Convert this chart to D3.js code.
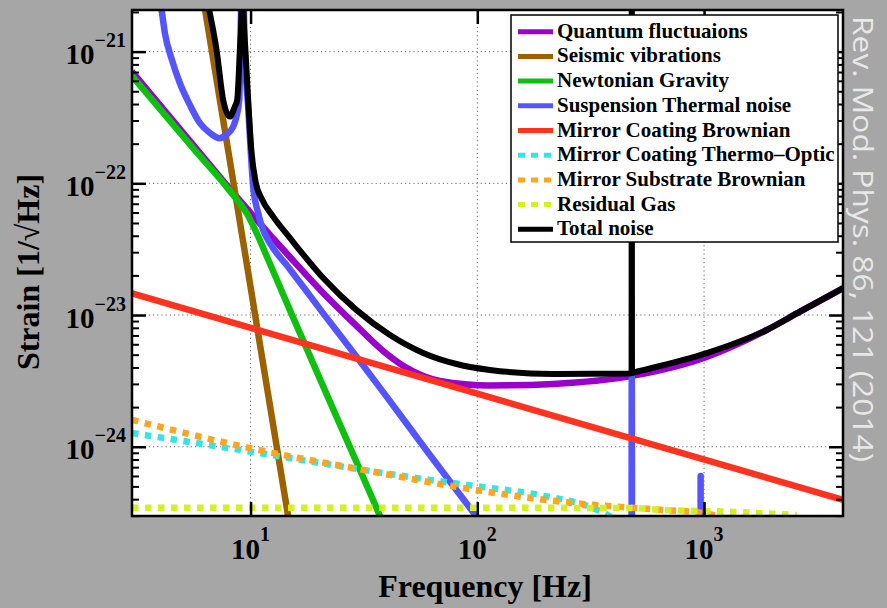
<!DOCTYPE html>
<html>
<head>
<meta charset="utf-8">
<script src="https://cdnjs.cloudflare.com/ajax/libs/d3/7.8.5/d3.min.js"></script>
<style>
body { margin: 0; background: #a6a6a6; }
svg { display: block; }
</style>
</head>
<body>
<svg width="887" height="608"></svg>
<script>
// values: frequency [Hz] and strain [1/sqrt(Hz)]
var quantumF = [3, 5.58, 8.1, 10.27, 14.91, 20.91, 29.35, 38.45, 48.76, 68.4, 113.6, 216, 479, 1027, 1889, 2649, 4100];
var quantumH = [7.05e-22, 1.96e-22, 9.07e-23, 5.66e-23, 2.76e-23, 1.47e-23, 8.27e-24, 5.34e-24, 3.97e-24, 3.16e-24, 2.92e-24, 3.0e-24, 3.45e-24, 4.81e-24, 7.7e-24, 1.06e-23, 1.6e-23];

var seismicF = [6.2, 8, 10, 12, 15];
var seismicH = [2.46e-21, 1.7e-22, 1.63e-23, 2.4e-24, 2.31e-25];

var newtonF = [3, 5.58, 8.1, 9.6, 10.63, 11.77, 14.91, 22.38, 37.2, 45];
var newtonH = [6.54e-22, 1.85e-22, 8.76e-23, 5.96e-23, 4.2e-23, 2.81e-23, 1.09e-23, 2.2e-24, 2.98e-25, 1.37e-25];

var suspF = [3.95, 4.05, 4.19, 4.5, 4.88, 5.4, 5.98, 6.62, 7.32, 7.78, 8.38, 8.7, 8.91, 9.2, 9.45, 9.76, 10.27, 10.77, 11.36, 12.16, 14.91, 20.91, 29.35, 39.8, 61.8, 99.3, 200, 478, 480, 482, 964, 966, 968, 4100];
var suspH = [2.6e-21, 2.07e-21, 1.38e-21, 8.65e-22, 5.75e-22, 3.94e-22, 2.86e-22, 2.41e-22, 2.2e-22, 2.33e-22, 2.69e-22, 3.31e-22, 4.3e-22, 5e-21, 9e-22, 3.8e-22, 9.44e-23, 6.06e-23, 4.43e-23, 3.53e-23, 2.23e-23, 1.03e-23, 4.83e-24, 2.4e-24, 8.66e-25, 2.94e-25, 6e-26, 8e-27, 3.45e-24, 8e-27, 3e-27, 6e-25, 3e-27, 2e-28];

var coatingF = [3, 100, 4100];
var coatingH = [1.46e-23, 2.53e-24, 3.95e-25];

var thermoF = [3, 10, 31.4, 61.8, 102.7, 209, 313.8, 384.6, 450];
var thermoH = [1.27e-24, 9.18e-25, 6.67e-25, 5.6e-25, 4.98e-25, 4.16e-25, 3.49e-25, 2.96e-25, 2.4e-25];

var substrateF = [3, 10, 31.4, 86.4, 238.5, 658.7, 989, 1175, 1500];
var substrateH = [1.6e-24, 9.74e-25, 6.67e-25, 4.87e-25, 3.81e-25, 3.31e-25, 3.14e-25, 2.94e-25, 2.5e-25];

var gasF = [3, 470, 658.7, 1301, 2560];
var gasH = [3.45e-25, 3.43e-25, 3.31e-25, 3.21e-25, 3.03e-25];

var totalF = [6.4, 6.57, 7.08, 7.57, 8.1, 8.52, 8.73, 8.97, 9.13, 9.2, 9.3, 9.5, 9.76, 10.08, 10.56, 11.21, 12.58, 14.91, 20.91, 29.35, 41.2, 57.7, 81, 113.6, 216, 470, 479, 480, 481, 500, 1027, 1889, 2649, 4100];
var totalH = [2.6e-21, 2.07e-21, 1.03e-21, 4.3e-22, 3.21e-22, 3.82e-22, 4.3e-22, 1.03e-21, 2.07e-21, 5e-21, 2.07e-21, 1.0e-21, 4.3e-22, 1.79e-22, 1.0e-22, 7.61e-23, 5.59e-23, 3.85e-23, 1.91e-23, 1.09e-23, 7.06e-24, 5.16e-24, 4.25e-24, 3.83e-24, 3.57e-24, 3.6e-24, 3.62e-24, 1e-20, 3.64e-24, 3.7e-24, 5.13e-24, 7.7e-24, 1.06e-23, 1.6e-23];

var legendLabels = ["Quantum fluctuaions", "Seismic vibrations", "Newtonian Gravity", "Suspension Thermal noise", "Mirror Coating Brownian", "Mirror Coating Thermo\u2013Optic", "Mirror Substrate Brownian", "Residual Gas", "Total noise"];

var xTicks = [10, 100, 1000];
var xTickExp = ["1", "2", "3"];
var yTicks = [1e-21, 1e-22, 1e-23, 1e-24];
var yTickExp = ["\u221221", "\u221222", "\u221223", "\u221224"];

// plot box (window.top is read-only, so no plain "top" here)
var boxL = 132, boxR = 843, boxT = 10, boxB = 516;

var svg = d3.select('svg');

var ScaleX = d3.scaleLog().domain([3, 4100]).range([boxL, boxR]);
var ScaleY = d3.scaleLog().domain([2.98e-25, 2.07e-21]).range([boxB, boxT]);

// series table (drawing order = legend order, total on top)
var series = [
    {f: quantumF, h: quantumH, color: '#9900cc', dash: null},
    {f: seismicF, h: seismicH, color: '#9c6200', dash: null},
    {f: newtonF, h: newtonH, color: '#10c010', dash: null},
    {f: suspF, h: suspH, color: '#5555ff', dash: null},
    {f: coatingF, h: coatingH, color: '#ff3320', dash: null},
    {f: thermoF, h: thermoH, color: '#33e6e6', dash: '6.5,6.5'},
    {f: substrateF, h: substrateH, color: '#ffa522', dash: '6.5,6.5'},
    {f: gasF, h: gasH, color: '#d4f01e', dash: '6.5,6.5'},
    {f: totalF, h: totalH, color: '#000000', dash: null}
];
series.forEach(function(s, i){ s.label = legendLabels[i]; });

svg.append('rect')
    .attr('width', 887).attr('height', 608)
    .attr('fill', '#a6a6a6');

svg.append('rect')
    .attr('x', boxL).attr('y', boxT)
    .attr('width', boxR - boxL).attr('height', boxB - boxT)
    .attr('fill', 'white');

svg.append('clipPath').attr('id', 'plotclip')
    .append('rect')
    .attr('x', boxL).attr('y', boxT)
    .attr('width', boxR - boxL).attr('height', boxB - boxT);

// dotted grid at the decades
svg.selectAll('.gridx')
    .data(xTicks)
    .enter()
    .append('line')
    .attr('class', 'gridx')
    .attr('x1', function(d){ return ScaleX(d); })
    .attr('x2', function(d){ return ScaleX(d); })
    .attr('y1', boxT).attr('y2', boxB)
    .attr('stroke', '#666').attr('stroke-width', 1)
    .attr('stroke-dasharray', '1.2,3');

svg.selectAll('.gridy')
    .data(yTicks)
    .enter()
    .append('line')
    .attr('class', 'gridy')
    .attr('x1', boxL).attr('x2', boxR)
    .attr('y1', function(d){ return ScaleY(d); })
    .attr('y2', function(d){ return ScaleY(d); })
    .attr('stroke', '#666').attr('stroke-width', 1)
    .attr('stroke-dasharray', '1.2,3');

// curves, smoothed between the read points
var line = d3.line()
    .curve(d3.curveMonotoneX)
    .x(function(d){ return ScaleX(d[0]); })
    .y(function(d){ return ScaleY(d[1]); });

var curves = svg.append('g').attr('clip-path', 'url(#plotclip)');

curves.selectAll('path')
    .data(series)
    .enter()
    .append('path')
    .attr('d', function(s){
        return line(s.f.map(function(f, i){ return [f, s.h[i]]; }));
    })
    .attr('fill', 'none')
    .attr('stroke', function(s){ return s.color; })
    .attr('stroke-width', function(s){ return s.color == '#000000' ? 6 : 6.5; })
    .attr('stroke-linejoin', 'round')
    .attr('stroke-dasharray', function(s){ return s.dash; });

// ticks, pointing into the box
var minorY = [];
[1e-25, 1e-24, 1e-23, 1e-22, 1e-21].forEach(function(d){
    for (var k = 2; k <= 9; k++) {
        var v = d * k;
        if (v > ScaleY.domain()[0] && v < ScaleY.domain()[1]) minorY.push(v);
    }
});

function tickStyle(w){
    return function(g){
        g.select('.domain').remove();
        g.selectAll('line').attr('stroke-width', w);
    };
}

svg.append('g')
    .attr('transform', 'translate(' + boxL + ',0)')
    .call(d3.axisLeft(ScaleY).tickValues(yTicks).tickSize(-14).tickFormat(''))
    .call(tickStyle(2.5));
svg.append('g')
    .attr('transform', 'translate(' + boxL + ',0)')
    .call(d3.axisLeft(ScaleY).tickValues(minorY).tickSize(-7).tickFormat(''))
    .call(tickStyle(2));
svg.append('g')
    .attr('transform', 'translate(' + boxR + ',0)')
    .call(d3.axisRight(ScaleY).tickValues(yTicks).tickSize(-14).tickFormat(''))
    .call(tickStyle(2.5));
svg.append('g')
    .attr('transform', 'translate(' + boxR + ',0)')
    .call(d3.axisRight(ScaleY).tickValues(minorY).tickSize(-7).tickFormat(''))
    .call(tickStyle(2));
svg.append('g')
    .attr('transform', 'translate(0,' + boxB + ')')
    .call(d3.axisBottom(ScaleX).tickValues(xTicks).tickSize(-14).tickFormat(''))
    .call(tickStyle(2.5));
svg.append('g')
    .attr('transform', 'translate(0,' + boxT + ')')
    .call(d3.axisTop(ScaleX).tickValues(xTicks).tickSize(-14).tickFormat(''))
    .call(tickStyle(2.5));

// frame
svg.append('rect')
    .attr('x', boxL).attr('y', boxT)
    .attr('width', boxR - boxL).attr('height', boxB - boxT)
    .attr('fill', 'none').attr('stroke', 'black').attr('stroke-width', 2.5);

// tick labels 10^n
var yLab = svg.selectAll('.ylab')
    .data(yTicks)
    .enter()
    .append('text')
    .attr('class', 'ylab')
    .attr('x', 126)
    .attr('y', function(d){ return ScaleY(d) + 12.5; })
    .attr('text-anchor', 'end')
    .style('font-family', '"Liberation Serif", "Times New Roman", serif')
    .style('font-weight', 'bold');
yLab.append('tspan').style('font-size', '29px').text('10');
yLab.append('tspan').style('font-size', '20px').attr('dy', -17)
    .text(function(d, i){ return yTickExp[i]; });

var xLab = svg.selectAll('.xlab')
    .data(xTicks)
    .enter()
    .append('text')
    .attr('class', 'xlab')
    .attr('x', function(d){ return ScaleX(d); })
    .attr('y', 559)
    .attr('text-anchor', 'middle')
    .style('font-family', '"Liberation Serif", "Times New Roman", serif')
    .style('font-weight', 'bold');
xLab.append('tspan').style('font-size', '29px').text('10');
xLab.append('tspan').style('font-size', '20px').attr('dy', -18)
    .text(function(d, i){ return xTickExp[i]; });

// axis titles
svg.append('text')
    .text('Frequency [Hz]')
    .attr('x', 485).attr('y', 597)
    .attr('text-anchor', 'middle')
    .style('font', 'bold 32px "Liberation Serif", serif');

svg.append('text')
    .text('Strain [1/\u221AHz]')
    .attr('transform', 'translate(39,272)rotate(-90)')
    .attr('text-anchor', 'middle')
    .style('font', 'bold 32px "Liberation Serif", serif');

// legend
var lg = svg.append('g');
lg.append('rect')
    .attr('x', 511).attr('y', 15)
    .attr('width', 327).attr('height', 227)
    .attr('fill', 'white').attr('stroke', 'black').attr('stroke-width', 1.5);

var rows = lg.selectAll('.row')
    .data(series)
    .enter()
    .append('g')
    .attr('class', 'row')
    .attr('transform', function(d, i){ return 'translate(0,' + (31.7 + 24.7 * i) + ')'; });
rows.append('line')
    .attr('x1', 518).attr('x2', 553)
    .attr('stroke', function(s){ return s.color; })
    .attr('stroke-width', 5)
    .attr('stroke-dasharray', function(s){ return s.dash ? '7,6' : null; });
rows.append('text')
    .attr('x', 557).attr('y', 6)
    .text(function(s){ return s.label; })
    .style('font', 'bold 21px "Liberation Serif", serif');

// citation down the right edge
svg.append('text')
    .text('Rev. Mod. Phys. 86, 121 (2014)')
    .attr('transform', 'translate(853,16)rotate(90)')
    .attr('textLength', 446)
    .attr('lengthAdjust', 'spacingAndGlyphs')
    .attr('fill', '#e8e8e8')
    .style('font', '28px "Open Sans", sans-serif');
</script>
</body>
</html>
